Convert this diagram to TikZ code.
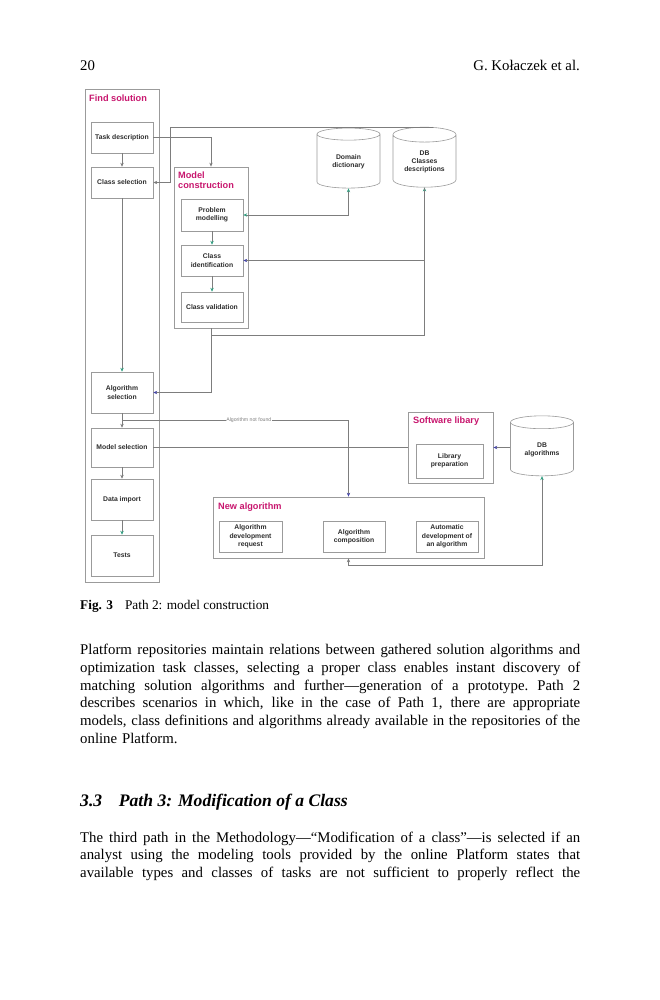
\documentclass[tikz,border=0pt]{standalone}
\usepackage{fontspec}
\setmainfont{Liberation Serif}
\newfontfamily\diagsans{Liberation Sans}
\usepackage{tikz}
\usetikzlibrary{shapes.geometric, arrows.meta, calc}

\definecolor{titlemag}{RGB}{200,22,110}
\definecolor{linegray}{RGB}{125,125,125}
\definecolor{boxgray}{RGB}{155,155,155}
\definecolor{tipgreen}{RGB}{50,160,130}
\definecolor{tipblue}{RGB}{70,70,170}
\definecolor{labelgray}{RGB}{45,45,45}

\tikzstyle{procbox} = [rectangle, draw=boxgray, line width=0.5pt, minimum width=62pt, minimum height=31pt, inner sep=1pt, align=center, text=labelgray, font=\diagsans\bfseries\fontsize{6.8}{8.3}\selectfont]
\tikzstyle{groupbox} = [rectangle, draw=boxgray, line width=0.7pt, inner sep=0pt]
\tikzstyle{grouptitle} = [anchor=north west, inner sep=0pt, align=left, text=titlemag, font=\diagsans\bfseries\fontsize{9.2}{10.5}\selectfont]
\tikzstyle{dbnode} = [cylinder, shape border rotate=90, aspect=0.35, draw=boxgray, line width=0.6pt, fill=white, minimum width=63pt, minimum height=60pt, inner sep=1pt, align=center, text=labelgray, font=\diagsans\bfseries\fontsize{6.8}{8.1}\selectfont]
\tikzstyle{link} = [draw=linegray, line width=0.6pt]
\tikzstyle{garrow} = [link, -{Stealth[length=4pt, width=3.4pt, color=tipgreen]}]
\tikzstyle{barrow} = [link, -{Stealth[length=4pt, width=3.4pt, color=tipblue]}]
\tikzstyle{karrow} = [link, -{Stealth[length=4pt, width=3.4pt, color=linegray]}]
\tikzstyle{nflabel} = [fill=white, inner sep=0.6pt, text=gray, font=\diagsans\fontsize{5.2}{6}\selectfont]
\tikzstyle{bodytext} = [anchor=base west, inner sep=0pt, font=\fontsize{14.8}{17.8}\selectfont]

% satu baris rata kiri-kanan
\newcommand{\jl}[1]{\hbox to 500pt{\spaceskip=0.25em plus 1em minus 0.07em\xspaceskip=\spaceskip\relax #1}}

\begin{document}
\begin{tikzpicture}[x=1pt, y=-1pt]
  \fill[white] (0,0) rectangle (659,1000);
  \useasboundingbox (0,0) rectangle (659,1000);

  % Kepala halaman
  \node[bodytext] (pagenum) at (80,71) {20};
  \node[bodytext, anchor=base east] (runhead) at (580,71) {G. Kołaczek et al.};

  % Kotak Find solution
  \node[groupbox, minimum width=74pt, minimum height=493pt] (findsol) at (122,335.5) {};
  \node[grouptitle] (findsolt) at (89,94.8) {Find solution};
  \node[procbox] (task) at (122,137.5) {Task description};
  \node[procbox] (clsel) at (122,182.5) {Class selection};
  \node[procbox, minimum height=41pt] (algsel) at (122,392.5) {Algorithm\\selection};
  \node[procbox, minimum height=39pt] (modsel) at (122,447.5) {Model selection};
  \node[procbox, minimum height=41pt] (dataimp) at (122,499.5) {Data import};
  \node[procbox, minimum height=41pt] (tests) at (122,555.5) {Tests};

  % Kotak Model construction
  \node[groupbox, minimum width=74pt, minimum height=161pt] (modcon) at (211,247.5) {};
  \node[grouptitle] (modcont) at (178,171.5) {Model\\construction};
  \node[procbox, minimum height=32pt] (probmod) at (212,215) {Problem\\modelling};
  \node[procbox] (clsid) at (212,260.5) {Class\\identification};
  \node[procbox, minimum height=30pt] (clsval) at (212,307) {Class validation};

  % Basis data
  \node[dbnode] (domdict) at (348.5,162) {Domain\\dictionary};
  \node[dbnode] (dbcls) at (424.5,162) {DB\\Classes\\descriptions};
  \node[dbnode] (dbalg) at (542,450) {DB\\algorithms};

  % Software libary dan New algorithm
  \node[groupbox, minimum width=85pt, minimum height=71pt] (softlib) at (450.5,447.5) {};
  \node[grouptitle] (softlibt) at (413,416.6) {Software libary};
  \node[procbox, minimum width=67pt, minimum height=34pt] (libprep) at (449.5,461) {Library\\preparation};
  \node[groupbox, minimum width=271pt, minimum height=61pt] (newalg) at (348.5,527.5) {};
  \node[grouptitle] (newalgt) at (218,502.6) {New algorithm};
  \node[procbox, minimum width=63pt] (algreq) at (250.5,536.5) {Algorithm\\development\\request};
  \node[procbox] (algcomp) at (354,536.5) {Algorithm\\composition};
  \node[procbox] (autodev) at (447,536.5) {Automatic\\development of\\an algorithm};

  % Panah di dalam kotak
  \draw[karrow] (task.south) -- (clsel.north);
  \draw[garrow] (clsel.south) -- (algsel.north);
  \draw[karrow] (algsel.south) -- (modsel.north);
  \draw[karrow] (modsel.south) -- (dataimp.north);
  \draw[garrow] (dataimp.south) -- (tests.north);
  \draw[garrow] (probmod.south) -- (clsid.north);
  \draw[garrow] (clsid.south) -- (clsval.north);

  % Penghubung antar kotak
  \coordinate (topbend) at (170,127);
  \coordinate (dbclsin) at ($(dbcls.north)+(8,0)$);
  \draw[karrow] (task.east) -| (modcon.north);
  \draw[karrow] (dbclsin) |- (topbend) |- (clsel.east);
  \draw[link, {Stealth[length=4pt, width=3.4pt, color=tipgreen]}-{Stealth[length=4pt, width=3.4pt, color=tipgreen]}] (domdict.south) |- (probmod.east);
  \draw[link, {Stealth[length=4pt, width=3.4pt, color=tipgreen]}-{Stealth[length=4pt, width=3.4pt, color=tipblue]}] (dbcls.south) |- (clsid.east);
  \draw[barrow] (modcon.south) |- (algsel.east);
  \draw[link] ($(modcon.south)+(0,7)$) -| (dbcls.south);

  \coordinate (nfstart) at ($(algsel.south)!0.5!(modsel.north)$);
  \draw[barrow] (nfstart) -| (newalg.north) node[nflabel, pos=0.28] (nflab) {Algorithm not found};
  \draw[link] (modsel.east) -- (softlib.west);
  \draw[barrow] (dbalg.west |- softlib.east) -- (softlib.east);
  \draw[link, {Stealth[length=4pt, width=3.4pt, color=linegray]}-{Stealth[length=4pt, width=3.4pt, color=tipgreen]}] (newalg.south) -- ++(0,7) -| (dbalg.south);

  % Keterangan gambar
  \node[bodytext, font=\fontsize{13.3}{16}\selectfont] (caption) at (80,609.5) {\textbf{Fig. 3}\hspace{0.9em}Path 2: model construction};

  % Paragraf
  \node[bodytext, text width=500pt] (para1) at (80,654.5) {%
    \jl{Platform repositories maintain relations between gathered solution algorithms and}
    \jl{optimization task classes, selecting a proper class enables instant discovery of}
    \jl{matching solution algorithms and further---generation of a prototype. Path 2}
    \jl{describes scenarios in which, like in the case of Path 1, there are appropriate}
    \jl{models, class definitions and algorithms already available in the repositories of the}
    \hbox{online Platform.}};

  \node[bodytext, font=\fontsize{17.6}{20}\selectfont\bfseries\itshape] (sechead) at (80,806) {3.3\hspace{0.95em}Path 3: Modification of a Class};

  \node[bodytext, text width=500pt] (para2) at (80,842) {%
    \jl{The third path in the Methodology---``Modification of a class''---is selected if an}
    \jl{analyst using the modeling tools provided by the online Platform states that}
    \jl{available types and classes of tasks are not sufficient to properly reflect the}};
\end{tikzpicture}
\end{document}
